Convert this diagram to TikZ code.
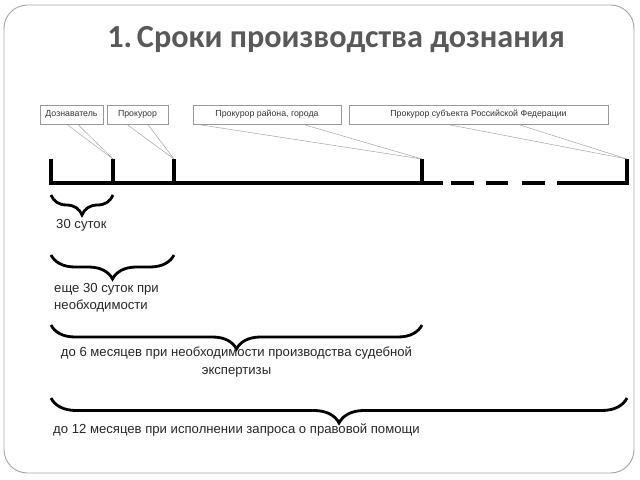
\documentclass[tikz,border=0pt]{standalone}
\usepackage{fontspec}
\setmainfont{Liberation Sans}
\newfontfamily\titlefont{Carlito}
\usepackage{tikz}
\usetikzlibrary{positioning}
\usetikzlibrary{calc}
\usetikzlibrary{decorations.pathreplacing}

\tikzset{
  box/.style={draw=gray!80, line width=0.5pt, inner sep=0pt, font=\fontsize{7.5}{9}\selectfont, text=black!80},
  tl/.style={line width=2.6pt},
  callout/.style={draw=gray!75, line width=0.4pt},
  lbl/.style={inner sep=0pt, font=\fontsize{11.2}{15}\selectfont, text=black!85}
}

\begin{document}
\begin{tikzpicture}[x=0.03cm, y=-0.03cm]

  \useasboundingbox (0,0) rectangle (640,480);

	%frame
  \draw[gray!70, line width=0.8pt, rounded corners=20pt] (4,5) rectangle (634,473);

	%title
  \node[anchor=base, text=black!65, font=\titlefont\bfseries\fontsize{27.5}{30}\selectfont] (title) at (336,48) {1.\hspace{0.15em}Сроки производства дознания};

	%draw boxes
 \def\by{114.5};
    \foreach \a/\b/\txt/\name in {40/103/Дознаватель/b1, 107/168/Прокурор/b2, 193/341/{Прокурор района, города}/b3, 349/608/{Прокурор субъекта Российской Федерации}/b4}{
         \pgfmathsetmacro\bw{(\b-\a)*0.8536}
         \node[box, minimum width=\bw pt, minimum height=16.2pt] (\name) at ({(\a+\b)/2}, \by) {\txt};
    }

	%ticks
    \foreach \x/\name in {51/t1, 113/t2, 174/t3, 422/t4, 627/t5}{
         \coordinate (\name) at (\x, 159);
         \coordinate (\name b) at (\x, 183);
    }
    \coordinate (e1) at (443,183);
    \coordinate (e2) at (557,183);

	%time line
    \draw[tl] (t1) -- (t1b) -- (e1);
    \foreach \t in {t2, t3, t4}{
         \draw[tl] (\t) -- (\t b);
    }
    \foreach \a/\b in {451/474, 486/508, 522/545}{
         \draw[tl] (\a,183) -- (\b,183);
    }
    \draw[tl] (e2) -- (t5b) -- (t5);

	%callouts
    \foreach \n/\t/\p/\q in {b1/t2/27/38, b2/t3/20/41, b3/t4/4/110, b4/t5/98/169}{
         \draw[callout] ($(\n.south west)+(\p,0)$) -- (\t);
         \draw[callout] ($(\n.south west)+(\q,0)$) -- (\t);
    }

	%braces
    \foreach \a/\b/\y/\amp/\name in {51/113/195/20/br1, 51/174/255/24/br2, 51/422/325/24/br3, 51/627/398/25/br4}{
         \pgfmathsetmacro\ampt{\amp*0.8536}
         \draw[line width=2.4pt, decorate, decoration={brace, mirror, amplitude=\ampt pt}] (\a,\y) -- (\b,\y);
         \coordinate (\name) at ({(\a+\b)/2}, \y+\amp);
    }

	%labels
  \node[lbl, anchor=north west] (l1) at (56,219) {30 суток};
  \node[lbl, anchor=north west, align=left] (l2) at (54,283) {еще 30 суток при\\необходимости};
  \node[lbl, below=2 of br3, align=center] (l3) {до 6 месяцев при необходимости производства судебной\\экспертизы};
  \node[lbl, anchor=north west] (l4) at (53,424) {до 12 месяцев при исполнении запроса о правовой помощи};

\end{tikzpicture}
\end{document}
